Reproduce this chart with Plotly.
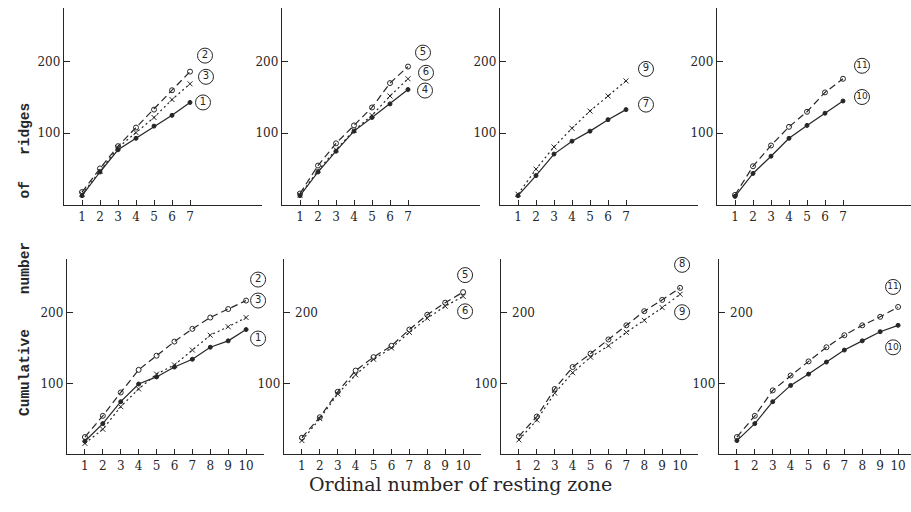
import plotly.graph_objects as go

# ---------------- data ----------------
zones7 = [1, 2, 3, 4, 5, 6, 7]
zones10 = [1, 2, 3, 4, 5, 6, 7, 8, 9, 10]
xticks7 = ["1", "2", "3", "4", "5", "6", "7"]
xticks10 = ["1", "2", "3", "4", "5", "6", "7", "8", "9", "10"]

# top row (7 zones)
a_curve2 = [18, 51, 82, 108, 133, 160, 186]
a_curve3 = [15, 47, 80, 101, 122, 147, 169]
a_curve1 = [13, 46, 77, 93, 110, 125, 143]

b_curve5 = [16, 55, 86, 111, 136, 170, 193]
b_curve6 = [14, 48, 77, 104, 125, 152, 176]
b_curve4 = [13, 46, 75, 103, 122, 141, 161]

c_curve9 = [15, 50, 81, 107, 131, 152, 173]
c_curve7 = [13, 41, 71, 89, 103, 119, 133]

d_curve11 = [14, 54, 83, 109, 130, 157, 176]
d_curve10 = [12, 44, 68, 93, 111, 128, 145]

# bottom row (10 zones)
e_curve2 = [24, 54, 87, 119, 139, 159, 177, 193, 205, 217]
e_curve3 = [15, 35, 67, 92, 113, 126, 147, 168, 180, 193]
e_curve1 = [18, 43, 74, 99, 109, 123, 134, 151, 160, 176]

f_curve5 = [23, 52, 88, 118, 137, 153, 176, 197, 214, 229]
f_curve6 = [19, 50, 85, 112, 134, 150, 172, 192, 209, 223]

g_curve8 = [25, 53, 92, 123, 142, 162, 182, 202, 218, 235]
g_curve9 = [20, 48, 86, 115, 137, 153, 172, 189, 207, 226]

h_curve11 = [24, 54, 90, 111, 131, 151, 168, 182, 194, 208]
h_curve10 = [19, 43, 74, 97, 113, 130, 147, 160, 173, 182]

yticks = [100, 200]

# ---------------- styles ----------------
W, H = 911, 512
INK = "#262626"
STYLE = {
    "circle": dict(symbol="circle-open", size=5, dash="7px,4px"),
    "cross": dict(symbol="x-thin-open", size=5, dash="2px,3px"),
    "dot": dict(symbol="circle", size=4, dash="solid"),
}

def px_dom_x(x0, x1):
    return [x0 / W, min(x1 / W, 1.0)]

def px_dom_y(ytop, ybot):
    return [1 - ybot / H, 1 - ytop / H]

panels = [
    dict(xpx=(64, 262), ypx=(8, 205), yr=274.7, xr=11, zones=zones7, xt=xticks7, inside200=False,
         series=[(2, a_curve2, "circle", (15, 16)), (3, a_curve3, "cross", (16, 7)), (1, a_curve1, "dot", (13, 0))]),
    dict(xpx=(282, 480), ypx=(8, 205), yr=274.7, xr=11, zones=zones7, xt=xticks7, inside200=False,
         series=[(5, b_curve5, "circle", (15, 14)), (6, b_curve6, "cross", (18, 6)), (4, b_curve4, "dot", (17, -1))]),
    dict(xpx=(500, 698), ypx=(8, 205), yr=274.7, xr=11, zones=zones7, xt=xticks7, inside200=False,
         series=[(9, c_curve9, "cross", (20, 12)), (7, c_curve7, "dot", (20, 5))]),
    dict(xpx=(717, 915), ypx=(8, 205), yr=274.7, xr=11, zones=zones7, xt=xticks7, inside200=False,
         series=[(11, d_curve11, "circle", (19, 13)), (10, d_curve10, "dot", (19, 4))]),
    dict(xpx=(67, 264), ypx=(259, 454), yr=275.8, xr=11, zones=zones10, xt=xticks10, inside200=False,
         series=[(2, e_curve2, "circle", (12, 21)), (3, e_curve3, "cross", (12, 17)), (1, e_curve1, "dot", (12, -9))]),
    dict(xpx=(284, 481), ypx=(259, 454), yr=275.8, xr=11, zones=zones10, xt=xticks10, inside200=True,
         series=[(5, f_curve5, "circle", (2, 17)), (6, f_curve6, "cross", (2, -15))]),
    dict(xpx=(501, 698), ypx=(259, 454), yr=275.8, xr=11, zones=zones10, xt=xticks10, inside200=True,
         series=[(8, g_curve8, "circle", (2, 23)), (9, g_curve9, "cross", (2, -18))]),
    dict(xpx=(719, 916), ypx=(259, 454), yr=275.8, xr=11, zones=zones10, xt=xticks10, inside200=True,
         series=[(11, h_curve11, "circle", (-5, 20)), (10, h_curve10, "dot", (-5, -22))]),
]

fig = go.Figure()
annotations = []
TICKFONT = dict(family="DejaVu Serif", size=12, color=INK)

for i, p in enumerate(panels, start=1):
    xa = "x" if i == 1 else f"x{i}"
    ya = "y" if i == 1 else f"y{i}"
    x0, x1 = p["xpx"]
    kx = (x1 - x0) / p["xr"]                      # px per zone
    ky = (p["ypx"][1] - p["ypx"][0]) / p["yr"]    # px per ridge
    x1c = min(x1, W)
    xr = (x1c - x0) / kx
    for num, vals, sty, (dx, dy) in p["series"]:
        s = STYLE[sty]
        fig.add_trace(go.Scatter(
            x=p["zones"], y=vals, xaxis=xa, yaxis=ya, mode="lines+markers",
            line=dict(color=INK, width=1.2, dash=s["dash"]),
            marker=dict(symbol=s["symbol"], size=s["size"], color=INK,
                        line=dict(color=INK, width=1)),
            showlegend=False, hoverinfo="skip"))
        # circled curve number, placed relative to the curve's last point
        fig.add_trace(go.Scatter(
            x=[p["zones"][-1] + dx / kx], y=[vals[-1] + dy / ky],
            xaxis=xa, yaxis=ya, mode="markers+text", text=[str(num)],
            textposition="middle center",
            textfont=dict(family="DejaVu Sans", size=9 if num >= 10 else 10, color=INK),
            marker=dict(symbol="circle-open", size=15, color=INK, line=dict(color=INK, width=1)),
            cliponaxis=False, showlegend=False, hoverinfo="skip"))
    key = "" if i == 1 else str(i)
    fig.update_layout(**{
        f"xaxis{key}": dict(
            domain=px_dom_x(x0, x1c), range=[0, xr], anchor=ya,
            tickvals=p["zones"], ticktext=p["xt"], ticks="inside", ticklen=5,
            tickcolor=INK, tickwidth=1.2, showline=True, linecolor=INK, linewidth=1.4,
            showgrid=False, zeroline=False, tickfont=TICKFONT, fixedrange=True),
        f"yaxis{key}": dict(
            domain=px_dom_y(*p["ypx"]), range=[0, p["yr"]], anchor=xa,
            tickvals=yticks,
            ticktext=["100", ""] if p["inside200"] else ["100", "200"],
            ticks="inside", ticklen=6, tickcolor=INK, tickwidth=1.2,
            showline=True, linecolor=INK, linewidth=1.4,
            showgrid=False, zeroline=False, tickfont=TICKFONT, fixedrange=True),
    })
    if p["inside200"]:
        annotations.append(dict(
            x=0, y=200, xref=xa, yref=ya, text="200", showarrow=False,
            xanchor="left", xshift=9, font=TICKFONT))

annotations.append(dict(
    x=460 / W, y=1 - 497 / H, xref="paper", yref="paper",
    text="Ordinal number of resting zone", showarrow=False,
    font=dict(family="DejaVu Serif", size=19, color=INK)))
nb = "\u00a0"
annotations.append(dict(
    x=15 / W, y=1 - 260 / H, xref="paper", yref="paper",
    text=f"<b>Cumulative{nb*4}number{nb*5}of{nb*3}ridges</b>", showarrow=False,
    textangle=-90,
    font=dict(family="Liberation Mono", size=14.5, color=INK)))

fig.update_layout(
    width=W, height=H, margin=dict(l=0, r=0, t=0, b=0),
    paper_bgcolor="white", plot_bgcolor="white",
    annotations=annotations, showlegend=False)

fig.write_html("out.html", config={"displayModeBar": False},
               post_script="document.body.style.margin='0';document.body.style.overflow='hidden';")
